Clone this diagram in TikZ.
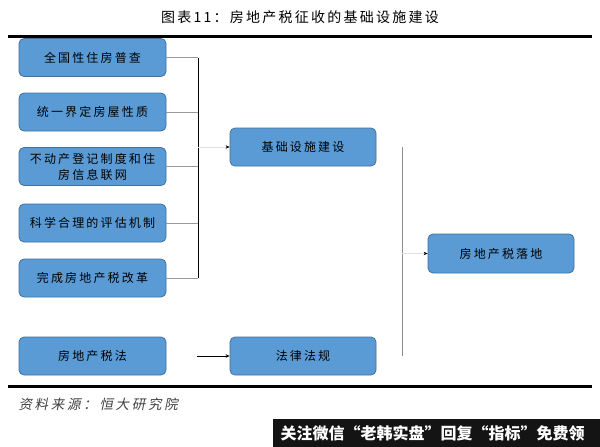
\documentclass[tikz,border=0pt]{standalone}
\usepackage{fontspec}
\setmainfont{Noto Sans CJK SC}
\newfontfamily\cjk[LetterSpace=18]{Noto Sans CJK SC}
\newfontfamily\cjktitle[LetterSpace=16]{Noto Sans CJK SC}
\newfontfamily\cjkslant[FakeSlant=0.2,LetterSpace=20]{Noto Sans CJK SC}
\newfontfamily\cjkbanner{Noto Sans CJK SC}
\usetikzlibrary{arrows.meta}
\definecolor{boxfill}{HTML}{5B9BD5}
\definecolor{boxline}{HTML}{41719C}
\tikzset{
  bluebox/.style={draw=boxline, line width=0.8pt, fill=boxfill, rounded corners=5pt,
    minimum width=147pt, minimum height=38pt, inner sep=0pt, align=center,
    font=\cjk\fontsize{12}{16}\selectfont, text=black},
  feeder/.style={draw=black!40, line width=0.6pt},
  spine/.style={draw=black, line width=0.9pt},
  faintarrow/.style={draw=black!12, line width=0.6pt, -{Stealth[length=4pt,width=3.5pt,color=black]}},
  blackarrow/.style={draw=black, line width=0.6pt, -{Stealth[length=4pt,width=3.5pt]}},
  rule/.style={draw=black, line width=3pt}
}
\begin{document}
\begin{tikzpicture}[x=1pt,y=-1pt]
\useasboundingbox (0,0) rectangle (600,447);
\fill[white] (0,0) rectangle (600,447);
% title
\node (title) at (300,17) {\cjktitle\fontsize{14}{16}\selectfont 图表11：房地产税征收的基础设施建设};
\coordinate (tl) at (8,36); \coordinate (tr) at (592,36);
\draw[rule] (tl) -- (tr);
% left boxes
\node[bluebox] (b1) at (92.5,57.5) {全国性住房普查};
\node[bluebox] (b2) at (92.5,112) {统一界定房屋性质};
\node[bluebox] (b3) at (92.5,166.5) {不动产登记制度和住\\房信息联网};
\node[bluebox] (b4) at (92.5,223) {科学合理的评估机制};
\node[bluebox] (b5) at (92.5,278) {完成房地产税改革};
\node[bluebox] (b6) at (92.5,356) {房地产税法};
% middle boxes
\node[bluebox, minimum width=146pt] (m1) at (303,147) {基础设施建设};
\node[bluebox, minimum width=146pt] (m2) at (303,356) {法律法规};
% right box
\node[bluebox, minimum width=146pt, minimum height=39pt] (r1) at (501,253.5) {房地产税落地};
% connectors
\coordinate (s1) at (198,57.5);
\coordinate (s5) at (198,278);
\coordinate (j1) at (198,147);
\foreach \b in {b1,b2,b3,b4,b5}{
  \draw[feeder] (\b.east) -- (\b.east -| s1);
}
\draw[spine] (s1) -- (s5);
\draw[faintarrow] (j1) -- (m1.west);
\coordinate (j2) at (197,356);
\draw[blackarrow] (j2) -- (m2.west);
\coordinate (v1) at (402,147);
\coordinate (v2) at (402,356);
\draw[draw=black!45, line width=0.7pt] (v1) -- (v2);
\coordinate (j3) at (402,253.5);
\draw[faintarrow] (j3) -- (r1.west);
% bottom rule and source
\coordinate (bl) at (8,386); \coordinate (br) at (592,386);
\draw[rule] (bl) -- (br);
\node[anchor=west, text=black!75] (src) at (15,404) {\cjkslant\fontsize{13.5}{15}\selectfont 资料来源：恒大研究院};
% banner
\fill[black!92] (273,419) rectangle (600,447);
\node[anchor=west, text=white] (ban) at (277,433) {\cjkbanner\bfseries\fontsize{16}{18}\selectfont 关注微信“老韩实盘”回复“指标”免费领};
\end{tikzpicture}
\end{document}
